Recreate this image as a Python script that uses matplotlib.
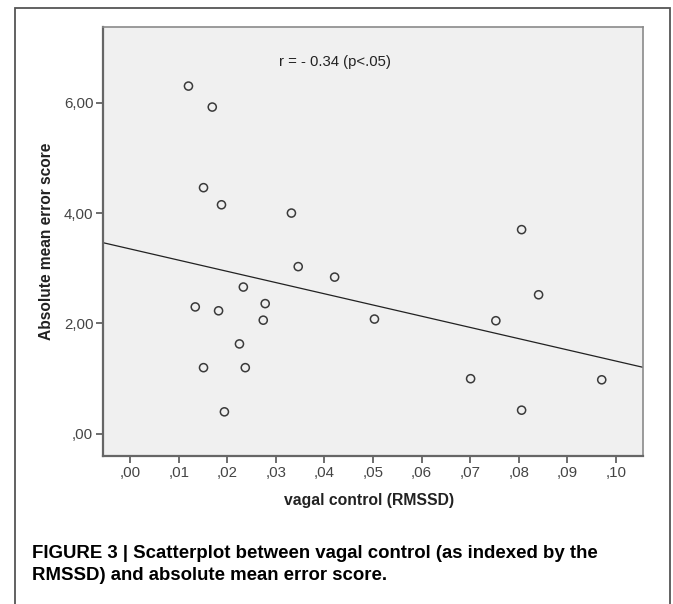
import matplotlib
matplotlib.use("Agg")
from matplotlib import pyplot as plt
from matplotlib.patches import Rectangle
import numpy as np

rmssd = [0.0120, 0.0169, 0.0151, 0.0188, 0.0332, 0.0346, 0.0421, 0.0233,
         0.0134, 0.0182, 0.0278, 0.0274, 0.0225, 0.0151, 0.0237, 0.0194,
         0.0503, 0.0806, 0.0841, 0.0753, 0.0701, 0.0971, 0.0806]
error_score = [6.30, 5.92, 4.46, 4.15, 4.00, 3.03, 2.84, 2.66,
               2.30, 2.23, 2.36, 2.06, 1.63, 1.20, 1.20, 0.40,
               2.08, 3.70, 2.52, 2.05, 1.00, 0.98, 0.43]

# fitted regression line (intercept, slope)
fit_line = [3.35, -20.3]

x_ticks = [0.00, 0.01, 0.02, 0.03, 0.04, 0.05, 0.06, 0.07, 0.08, 0.09, 0.10]
x_tick_labels = [",00", ",01", ",02", ",03", ",04", ",05", ",06", ",07", ",08", ",09", ",10"]
y_ticks = [0, 2, 4, 6]
y_tick_labels = [",00", "2,00", "4,00", "6,00"]

W, H = 673, 604


def main():
    plt.rcParams["font.family"] = ["Liberation Sans", "DejaVu Sans"]

    fig = plt.figure(figsize=(W / 100, H / 100), dpi=100)

    # Outer frame of the figure panel
    fig.patches.append(Rectangle((15 / W, -0.05), (670 - 15) / W, 1.05 - 8 / H,
                                 transform=fig.transFigure, fill=False,
                                 edgecolor="#555555", linewidth=1.3))

    ax = fig.add_axes([103 / W, 1 - 456 / H, (643 - 103) / W, (456 - 27) / H])
    ax.set_facecolor("#f0f0f0")

    ax.scatter(rmssd, error_score, s=34, facecolors="none",
               edgecolors="#3a3a3a", linewidths=1.1, zorder=3)

    xlim = (-0.0056, 0.1056)
    xs = np.array(xlim)
    ax.plot(xs, fit_line[0] + fit_line[1] * xs, color="#222222", linewidth=0.9)

    ax.set_xlim(*xlim)
    ax.set_ylim(-0.40, 7.37)
    ax.set_xticks(x_ticks)
    ax.set_xticklabels(x_tick_labels)
    ax.set_yticks(y_ticks)
    ax.set_yticklabels(y_tick_labels)
    ax.tick_params(direction="out", length=5, width=1.2, color="#555555",
                   labelsize=10.8, labelcolor="#444444", pad=2)

    for side in ["left", "bottom", "top", "right"]:
        ax.spines[side].set_color("#8a8a8a")
        ax.spines[side].set_linewidth(1.2)
    ax.spines["left"].set_color("#666666")
    ax.spines["bottom"].set_color("#666666")
    ax.spines["left"].set_linewidth(1.6)
    ax.spines["bottom"].set_linewidth(1.6)

    ax.text(335 / W, 1 - 62 / H, "r = - 0.34 (p<.05)", transform=fig.transFigure,
            ha="center", va="center", fontsize=10.7, color="#222222")

    fig.text(47 / W, 1 - 241 / H, "Absolute mean error score", rotation=90,
             ha="center", va="center", fontsize=11.2, fontweight="bold", color="#222222")
    fig.text(369 / W, 1 - 500 / H, "vagal control (RMSSD)",
             ha="center", va="center", fontsize=11.3, fontweight="bold", color="#222222")

    caption_font = ["Liberation Sans Narrow", "Liberation Sans", "DejaVu Sans"]
    fig.text(32 / W, 1 - 553 / H,
             "FIGURE 3 | Scatterplot between vagal control (as indexed by the",
             ha="left", va="center", fontsize=13.4, fontweight="bold",
             family=caption_font, color="black")
    fig.text(32 / W, 1 - 575 / H,
             "RMSSD) and absolute mean error score.",
             ha="left", va="center", fontsize=13.4, fontweight="bold",
             family=caption_font, color="black")

    fig.savefig("out.png", dpi=100)


if __name__ == "__main__":
    main()
